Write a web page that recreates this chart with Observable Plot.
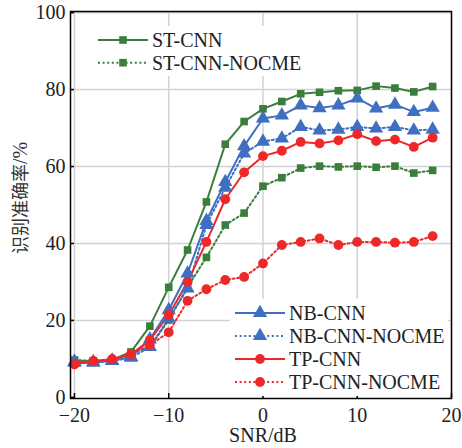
<!DOCTYPE html>
<html>
<head>
<meta charset="utf-8">
<script src="https://cdn.jsdelivr.net/npm/d3@7"></script>
<script src="https://cdn.jsdelivr.net/npm/@observablehq/plot@0.6"></script>
<style>
  html, body { margin: 0; padding: 0; background: #fff; }
  #chart svg { display: block; }
  #chart svg text { font-family: "Liberation Serif", "Times New Roman", Times, serif; }
  #chart svg text.cjk tspan.zh { font-family: "Noto Sans CJK SC", sans-serif; }
</style>
</head>
<body>
<div id="chart"></div>
<script>
const snr = [-20,-18,-16,-14,-12,-10,-8,-6,-4,-2,0,2,4,6,8,10,12,14,16,18];
const stCnn   = [9.5, 9.3, 9.7, 11.8, 18.5, 28.6, 38.3, 50.8, 65.8, 71.7, 75.0, 76.9, 78.9, 79.3, 79.7, 79.8, 80.9, 80.4, 79.4, 80.8];
const stNocme = [9.7, 9.5, 9.7, 11.4, 13.1, 20.1, 28.7, 36.4, 44.8, 47.9, 54.9, 57.1, 59.6, 60.1, 59.9, 60.1, 59.8, 60.1, 58.3, 59.0];
const nbCnn   = [9.0, 9.0, 9.5, 10.5, 15.1, 22.7, 32.2, 45.9, 56.0, 65.3, 72.5, 73.3, 75.9, 75.2, 75.9, 77.7, 75.1, 76.1, 74.2, 75.3];
const nbNocme = [9.3, 9.2, 9.5, 10.3, 13.1, 20.5, 28.3, 44.8, 54.5, 63.4, 66.5, 67.3, 70.3, 69.4, 69.6, 70.3, 69.9, 70.3, 69.4, 69.6];
const tpCnn   = [8.6, 9.4, 9.9, 11.2, 14.9, 21.4, 30.0, 40.4, 51.5, 58.5, 62.7, 64.1, 66.4, 66.0, 66.8, 68.4, 66.6, 67.0, 65.1, 67.5];
const tpNocme = [8.6, 9.4, 9.9, 11.2, 13.6, 16.9, 25.1, 28.1, 30.5, 31.3, 34.8, 39.6, 40.4, 41.3, 39.6, 40.4, 40.4, 40.2, 40.4, 41.9];

const xTicks = [-20, -10, 0, 10, 20];
const yTicks = [0, 20, 40, 60, 80, 100];

const GREEN = "#3b7d3b", BLUE = "#3f6fc0", RED = "#ee2828";
const series = [
  {name: "ST-CNN",        values: stCnn,   color: GREEN, dash: null,    symbol: "square",   r: 4.3},
  {name: "ST-CNN-NOCME",  values: stNocme, color: GREEN, dash: "2,2.6", symbol: "square",   r: 4.3},
  {name: "NB-CNN",        values: nbCnn,   color: BLUE,  dash: null,    symbol: "triangle", r: 5.3},
  {name: "NB-CNN-NOCME",  values: nbNocme, color: BLUE,  dash: "2,2.6", symbol: "triangle", r: 5.3},
  {name: "TP-CNN",        values: tpCnn,   color: RED,   dash: null,    symbol: "circle",   r: 4.9},
  {name: "TP-CNN-NOCME",  values: tpNocme, color: RED,   dash: "2,2.6", symbol: "circle",   r: 4.9}
];

const FONT = "'Liberation Serif', 'Times New Roman', Times, serif";

const marks = [
  Plot.gridX(xTicks, {stroke: "#d2d2d2", strokeOpacity: 1, strokeWidth: 1.5}),
  Plot.gridY(yTicks.filter(d => d > 0), {stroke: "#d2d2d2", strokeOpacity: 1, strokeWidth: 1.5}),
];
for (const s of series) {
  const data = snr.map((x, i) => ({x, y: s.values[i]}));
  marks.push(Plot.line(data, {x: "x", y: "y", stroke: s.color, strokeWidth: 2, strokeDasharray: s.dash}));
}
for (const s of series) {
  const data = snr.map((x, i) => ({x, y: s.values[i]}));
  marks.push(Plot.dot(data, {x: "x", y: "y", fill: s.color, stroke: "none", symbol: s.symbol, r: s.r}));
}
marks.push(
  Plot.ruleX(xTicks, {y1: -0.3, y2: 1.0, stroke: "black", strokeWidth: 1.5}),
  Plot.ruleY(yTicks, {x1: -20.42, x2: -20.0, stroke: "black", strokeWidth: 1.5}),
  Plot.axisX(xTicks, {tickSize: 0, tickPadding: 9, fontSize: 20, tickFormat: d => d < 0 ? "\u2212" + Math.abs(d) : String(d), label: null}),
  Plot.axisY(yTicks, {tickSize: 0, tickPadding: 5, fontSize: 20, label: null}),
  Plot.frame({stroke: "black", strokeWidth: 1.5})
);

const plot = Plot.plot({
  width: 462,
  height: 448,
  marginLeft: 70,
  marginRight: 11,
  marginTop: 11,
  marginBottom: 50,
  style: {fontFamily: FONT, fontSize: "20px", color: "#222", background: "white"},
  x: {domain: [-20.42, 20]},
  y: {domain: [-0.3, 100.3]},
  marks
});

const svg = d3.select(plot);
svg.selectAll("text").attr("fill", "#222");

// axis titles
svg.append("text")
  .attr("x", 263).attr("y", 442)
  .attr("text-anchor", "middle")
  .attr("font-size", 20).attr("fill", "#222")
  .text("SNR/dB");
const yl = svg.append("text")
  .attr("class", "cjk")
  .attr("transform", "translate(27,198) rotate(-90)")
  .attr("text-anchor", "middle")
  .attr("font-size", 18).attr("fill", "#333");
yl.append("tspan").attr("class", "zh").text("识别准确率");
yl.append("tspan").attr("font-size", 20).text("/%");

// legends
function legend(items, x0, y0, bw, rowH, bg) {
  const g = svg.append("g");
  g.append("rect").attr("x", bg[0]).attr("y", bg[1]).attr("width", bg[2]).attr("height", bg[3]).attr("fill", "white");
  items.forEach((s, i) => {
    const y = y0 + i * rowH;
    g.append("line").attr("x1", x0).attr("x2", x0 + bw).attr("y1", y).attr("y2", y)
      .attr("stroke", s.color).attr("stroke-width", 2).attr("stroke-dasharray", s.dash);
    const sym = d3.symbol().type(s.symbol === "square" ? d3.symbolSquare : s.symbol === "triangle" ? d3.symbolTriangle : d3.symbolCircle)
      .size(Math.PI * s.r * s.r);
    g.append("path").attr("d", sym()).attr("transform", `translate(${x0 + bw / 2},${y})`).attr("fill", s.color);
    g.append("text").attr("x", x0 + bw + 4).attr("y", y).attr("dy", "0.35em")
      .attr("text-anchor", "start")
      .attr("font-size", 20).attr("fill", "#222").text(s.name);
  });
}
legend(series.slice(0, 2), 98, 40, 50, 22.7, [94, 26, 212, 50]);
legend(series.slice(2), 235, 313, 50, 23, [230, 299, 218, 97]);

document.getElementById("chart").appendChild(plot);
</script>
</body>
</html>
